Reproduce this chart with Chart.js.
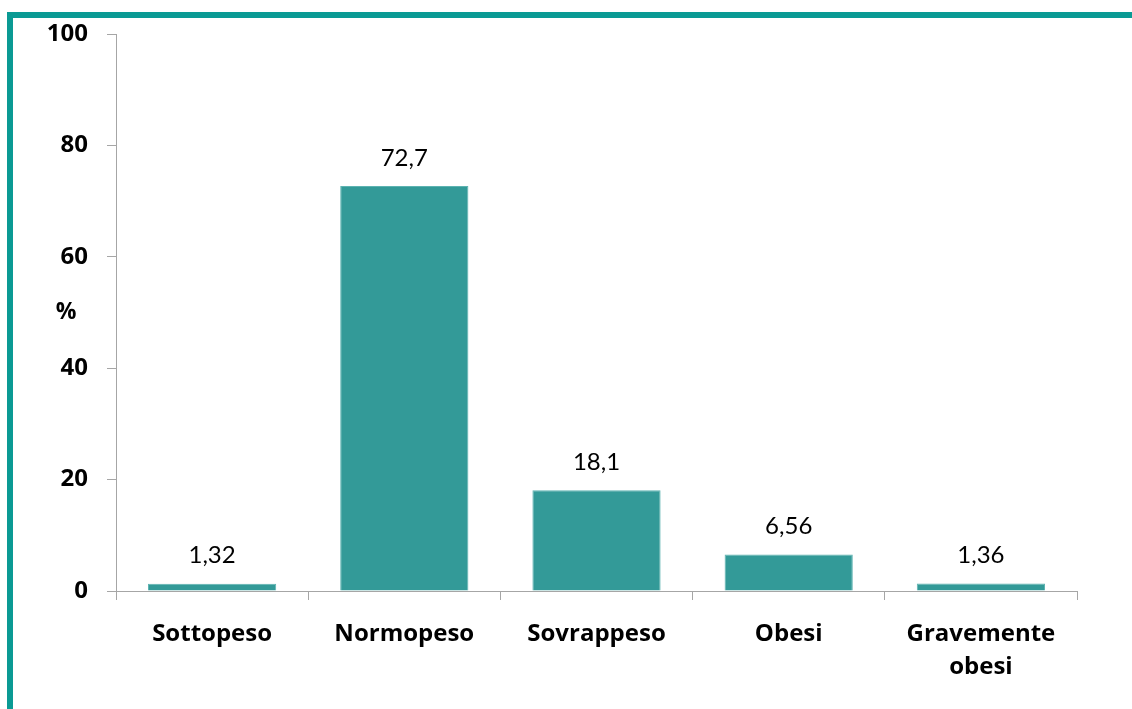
<!DOCTYPE html>
<html>
<head>
<meta charset="utf-8">
<script src="https://cdn.jsdelivr.net/npm/chart.js@4"></script>
<style>
  html, body { margin: 0; padding: 0; background: #fff; overflow: hidden; }
  #frame {
    position: absolute; left: 7px; top: 12px; width: 1200px; height: 800px;
    border-left: 6px solid #0a9a94; border-top: 6px solid #0a9a94;
  }
  #wrap { position: absolute; left: 0; top: 0; width: 1132px; height: 709px; }
</style>
</head>
<body>
<div id="frame"></div>
<div id="wrap"><canvas id="chart" width="1132" height="709"></canvas></div>
<script>
const categories = ['Sottopeso', 'Normopeso', 'Sovrappeso', 'Obesi', ['Gravemente', 'obesi']];
const values = [1.32, 72.7, 18.1, 6.56, 1.36];
const valueLabels = ['1,32', '72,7', '18,1', '6,56', '1,36'];
const yTicks = [0, 20, 40, 60, 80, 100];

const BOLD_FONT = '"Open Sans", Lato, sans-serif';
const LABEL_FONT = 'Lato, "Open Sans", sans-serif';

// value labels above bars + the "%" axis label
const labelsPlugin = {
    id: 'labels',
    afterDatasetsDraw(chart) {
        const ctx = chart.ctx;
        const meta = chart.getDatasetMeta(0);
        ctx.save();
        ctx.fillStyle = '#000';
        ctx.textAlign = 'center';
        ctx.textBaseline = 'middle';
        ctx.font = '24px ' + LABEL_FONT;
        meta.data.forEach((bar, i) => {
            ctx.fillText(valueLabels[i], bar.x, bar.y - 28);
        });
        const area = chart.chartArea;
        ctx.font = 'bold 23px ' + BOLD_FONT;
        ctx.fillText('%', 66, (area.top + area.bottom) / 2);
        ctx.restore();
    }
};

new Chart(document.getElementById('chart').getContext('2d'), {
    type: 'bar',
    data: {
        labels: categories,
        datasets: [{
            data: values,
            backgroundColor: '#339a98',
            borderColor: '#5db3b1',
            borderWidth: 1,
            categoryPercentage: 0.667,
            barPercentage: 1
        }]
    },
    options: {
        responsive: false,
        animation: false,
        layout: { padding: { top: 34, right: 55, left: 0, bottom: 0 } },
        plugins: { legend: { display: false }, tooltip: { enabled: false } },
        scales: {
            y: {
                min: 0, max: 100,
                afterFit: s => { s.width = 116; },
                afterBuildTicks: s => { s.ticks = yTicks.map(v => ({ value: v })); },
                border: { color: '#a6a6a6', width: 1 },
                grid: { drawOnChartArea: false, drawTicks: true, tickLength: 9, color: '#a6a6a6' },
                ticks: { padding: 19, color: '#000', font: { family: BOLD_FONT, size: 24, weight: 'bold' } }
            },
            x: {
                afterFit: s => { s.height = 118; },
                border: { color: '#a6a6a6', width: 1 },
                grid: { drawOnChartArea: false, drawTicks: true, tickLength: 9, color: '#a6a6a6', offset: true },
                ticks: { padding: 17, color: '#000', maxRotation: 0, font: { family: BOLD_FONT, size: 24, weight: 'bold', lineHeight: 1.4 } }
            }
        }
    },
    plugins: [labelsPlugin]
});
</script>
</body>
</html>
